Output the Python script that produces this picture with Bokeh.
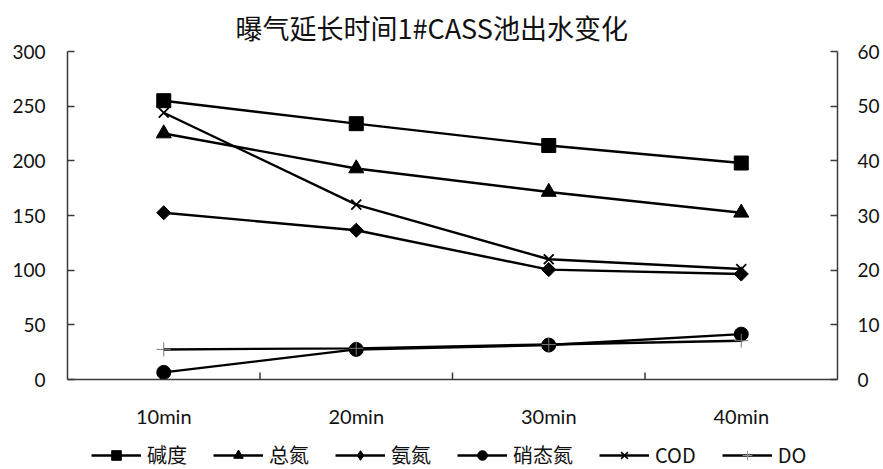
import math

from bokeh.plotting import figure
from bokeh.layouts import column
from bokeh.models import Range1d, LinearAxis, FixedTicker, Legend, FactorRange
from bokeh.embed import file_html
from bokeh.resources import INLINE

# Aeration time steps
categories = ["10min", "20min", "30min", "40min"]

# Left axis (0-300)
alkalinity = [255, 234, 214, 198]      # 碱度
cod = [244, 160, 110, 101]             # COD

# Right axis (0-60)
total_n = [45.0, 38.6, 34.3, 30.5]     # 总氮
ammonia_n = [30.5, 27.3, 20.1, 19.3]   # 氨氮
nitrate_n = [1.3, 5.5, 6.3, 8.3]       # 硝态氮
do = [5.5, 5.7, 6.4, 7.1]              # DO

left_ticks = [0, 50, 100, 150, 200, 250, 300]
right_ticks = [0, 10, 20, 30, 40, 50, 60]

TICK_FONT = "Lato"
CJK_FONT = "Noto Sans CJK SC"
AXIS_COLOR = "#3a3a3a"

p = figure(
    width=883, height=430,
    x_range=FactorRange(*categories, range_padding=0),
    y_range=Range1d(0, 300),
    output_backend="svg", toolbar_location=None,
    min_border_left=67, min_border_right=46,
    min_border_top=50, min_border_bottom=51,
)
p.extra_y_ranges = {"right": Range1d(0, 60)}

p.title.text = "曝气延长时间1#CASS池出水变化"
p.title.text_font = CJK_FONT
p.title.text_font_size = "27px"
p.title.text_font_style = "normal"
p.title.text_color = "#111111"
p.title.align = "left"
p.title.offset = 168
p.title.standoff = 10

p.outline_line_color = None
p.xgrid.grid_line_color = None
p.ygrid.grid_line_color = None
p.background_fill_color = "white"
p.border_fill_color = "white"


def style_axis(ax, size="19px"):
    ax.axis_line_color = AXIS_COLOR
    ax.axis_line_width = 1.5
    ax.major_tick_line_color = AXIS_COLOR
    ax.major_tick_line_width = 1.5
    ax.major_tick_in = 7
    ax.major_tick_out = 0
    ax.minor_tick_line_color = None
    ax.major_label_text_font = TICK_FONT
    ax.major_label_text_font_size = size
    ax.major_label_text_color = "#111111"


# x axis
xa = p.xaxis[0]
style_axis(xa, "20px")
xa.major_tick_line_color = None
xa.major_label_standoff = 24

# left y axis
ya = p.yaxis[0]
style_axis(ya)
ya.ticker = FixedTicker(ticks=left_ticks)
ya.major_label_standoff = 22

# right y axis
yr = LinearAxis(y_range_name="right", ticker=FixedTicker(ticks=right_ticks))
style_axis(yr)
yr.major_label_standoff = 20
p.add_layout(yr, "right")

# category boundary ticks on the x axis
p.segment(x0=[1, 2, 3], y0=[0, 0, 0], x1=[1, 2, 3], y1=[6.5, 6.5, 6.5],
          line_color=AXIS_COLOR, line_width=1.5)

LW = 2.4
series = [
    ("碱度", alkalinity, "default", dict(marker="square", size=14)),
    ("总氮", total_n, "right", dict(marker="triangle", size=15)),
    ("氨氮", ammonia_n, "right", dict(marker="square", size=10, angle=math.pi / 4)),
    ("硝态氮", nitrate_n, "right", dict(marker="circle", size=14)),
    ("COD", cod, "default", dict(marker="x", size=14, line_width=1.8)),
    ("DO", do, "right", dict(marker="cross", size=14, line_width=1, line_color="#777777")),
]

for name, vals, rng, mk in series:
    kw = {} if rng == "default" else {"y_range_name": rng}
    p.line(categories, vals, line_color="black", line_width=LW, **kw)
    opts = dict(fill_color="black", line_color="black")
    opts.update(mk)
    p.scatter(categories, vals, **opts, **kw)

# Legend strip underneath the chart: same line + marker styles as the series
legend_markers = {
    "碱度": dict(marker="square"),
    "总氮": dict(marker="triangle"),
    "氨氮": dict(marker="diamond"),
    "硝态氮": dict(marker="circle"),
    "COD": dict(marker="x", line_width=1.6),
    "DO": dict(marker="cross", line_width=1, line_color="#999999"),
}

leg_fig = figure(
    width=883, height=39,
    x_range=Range1d(0, 1), y_range=Range1d(0, 1),
    output_backend="svg", toolbar_location=None,
    min_border=0,
)
leg_fig.axis.visible = False
leg_fig.grid.visible = False
leg_fig.outline_line_color = None
leg_fig.background_fill_color = "white"
leg_fig.border_fill_color = "white"

items = []
for name, vals, rng, mk in series:
    ln = leg_fig.line([-5, -4], [-5, -4], line_color="black", line_width=LW)
    opts = dict(fill_color="black", line_color="black", size=14)
    opts.update(legend_markers[name])
    sc = leg_fig.scatter([-5], [-5], **opts)
    items.append((name, [ln, sc]))

legend = Legend(items=items, orientation="horizontal", location=(24, 0))
legend.label_text_font = CJK_FONT
legend.label_text_font_size = "20px"
legend.label_text_color = "#111111"
legend.glyph_width = 50
legend.glyph_height = 24
legend.label_height = 18
legend.label_standoff = 6
legend.spacing = 26
legend.padding = 0
legend.margin = 0
legend.border_line_color = None
legend.background_fill_alpha = 0
leg_fig.add_layout(legend, "center")

layout = column(p, leg_fig, spacing=0)
open("out.html", "w").write(file_html(layout, INLINE))
